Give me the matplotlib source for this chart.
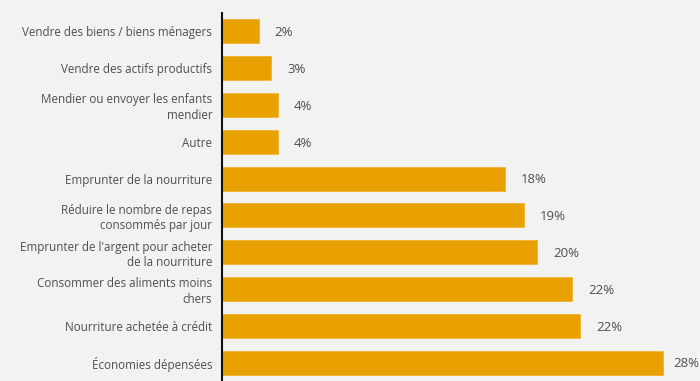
import matplotlib.pyplot as plt
import numpy as np

plt.rcParams['font.family'] = ['Open Sans', 'DejaVu Sans']

# Coping strategies, top to bottom
categories = [
    'Vendre des biens / biens ménagers',
    'Vendre des actifs productifs',
    'Mendier ou envoyer les enfants\nmendier',
    'Autre',
    'Emprunter de la nourriture',
    'Réduire le nombre de repas\nconsommés par jour',
    "Emprunter de l'argent pour acheter\nde la nourriture",
    'Consommer des aliments moins\nchers',
    'Nourriture achetée à crédit',
    'Économies dépensées',
]
shares = [2.3, 3.1, 3.5, 3.5, 17.7, 18.9, 19.7, 21.9, 22.4, 27.6]

bg = '#f2f2f2'
bar_color = '#e8a100'
text_color = '#4f4f4f'

fig = plt.figure(figsize=(7, 3.81), dpi=100, facecolor=bg)
ax = fig.add_axes([0.317, 0.0, 0.683, 0.966], facecolor=bg)

y = np.arange(len(categories))
ax.barh(y, shares, height=0.65, color=bar_color, edgecolor='#f0b531', linewidth=0.6)

xmax = 29.9
for yi, v in zip(y, shares):
    # pull the label in a little when the bar runs close to the right edge
    off = 11.5 if v < xmax - 3 else 7
    ax.annotate(f'{v:.0f}%', xy=(v, yi), xytext=(off, -1), textcoords='offset points',
                va='center', ha='left', fontsize=9.5, color=text_color)

ax.set_yticks(y)
ax.set_yticklabels(categories, fontsize=8.4, color=text_color, linespacing=1.25)
ax.tick_params(axis='y', length=0, pad=7)
ax.set_xticks([])
ax.set_ylim(len(categories) - 0.5, -0.5)
ax.set_xlim(0, xmax)

for side in ['top', 'right', 'bottom']:
    ax.spines[side].set_visible(False)
ax.spines['left'].set_color('#111111')
ax.spines['left'].set_linewidth(1.5)

fig.savefig('out.png', dpi=100, facecolor=bg)
